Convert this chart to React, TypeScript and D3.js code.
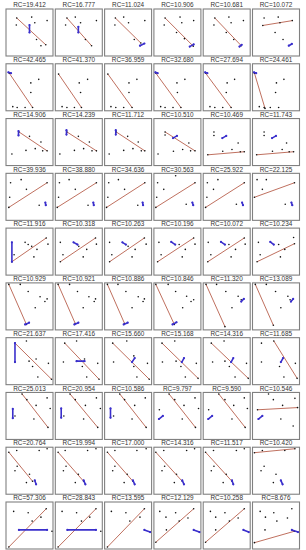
import React from "react";
import * as d3 from "d3";

type Pt = [number, number];
type Seg = [number, number, number, number];

// titles, row by row (6 per row)
const rcLabels = [
  "19.412", "16.777", "11.024", "10.906", "10.681", "10.072",
  "42.465", "41.370", "36.959", "32.680", "27.694", "24.461",
  "14.906", "14.239", "11.712", "10.510", "10.469", "11.743",
  "39.936", "38.880", "34.636", "30.563", "25.922", "22.125",
  "11.916", "10.318", "10.263", "10.196", "10.072", "10.234",
  "10.929", "10.921", "10.886", "10.846", "11.320", "13.089",
  "21.637", "17.416", "15.660", "15.168", "14.316", "11.685",
  "25.013", "20.954", "10.586", "9.797", "9.590", "10.546",
  "20.764", "19.994", "17.000", "14.316", "11.517", "10.420",
  "57.306", "28.843", "13.595", "12.129", "10.258", "8.676",
];

// scatter points of every panel (x, y in [0,1])
const panelPoints: Pt[][] = [
  // row 1
  [[0.21,0.83],[0.55,0.85],[0.20,0.67],[0.62,0.72],[0.90,0.77],[0.66,0.34],[0.76,0.20],[0.87,0.22]],
  [[0.23,0.83],[0.42,0.85],[0.20,0.67],[0.54,0.72],[0.90,0.77],[0.65,0.34],[0.79,0.20]],
  [[0.21,0.83],[0.40,0.85],[0.20,0.67],[0.51,0.72],[0.88,0.77],[0.64,0.34],[0.79,0.26]],
  [[0.22,0.83],[0.56,0.85],[0.20,0.67],[0.60,0.72],[0.87,0.77],[0.48,0.50],[0.66,0.36],[0.86,0.19]],
  [[0.23,0.83],[0.55,0.85],[0.21,0.67],[0.60,0.72],[0.88,0.77],[0.49,0.50],[0.66,0.34],[0.83,0.20]],
  [[0.20,0.66],[0.23,0.83],[0.55,0.85],[0.59,0.72],[0.48,0.50],[0.66,0.34],[0.87,0.77]],
  // row 2
  [[0.04,0.82],[0.53,0.60],[0.71,0.68],[0.53,0.38],[0.12,0.06],[0.22,0.04],[0.40,0.04],[0.57,0.04]],
  [[0.04,0.80],[0.51,0.60],[0.70,0.68],[0.54,0.38],[0.12,0.06],[0.23,0.04],[0.40,0.04],[0.56,0.04]],
  [[0.04,0.80],[0.52,0.60],[0.70,0.68],[0.52,0.38],[0.11,0.06],[0.22,0.04],[0.40,0.04],[0.59,0.04]],
  [[0.01,0.82],[0.49,0.60],[0.67,0.68],[0.50,0.38],[0.12,0.06],[0.22,0.04],[0.40,0.04],[0.58,0.04]],
  [[0.02,0.82],[0.51,0.60],[0.68,0.68],[0.49,0.38],[0.12,0.06],[0.23,0.04],[0.41,0.04],[0.60,0.04]],
  [[0.01,0.82],[0.51,0.60],[0.68,0.68],[0.49,0.38],[0.12,0.06],[0.23,0.04],[0.37,0.04],[0.56,0.04],[0.25,0.02]],
  // row 3
  [[0.26,0.73],[0.50,0.63],[0.76,0.50],[0.10,0.23],[0.42,0.31],[0.63,0.35],[0.80,0.30],[0.90,0.30]],
  [[0.23,0.73],[0.49,0.63],[0.74,0.50],[0.07,0.23],[0.40,0.31],[0.61,0.35],[0.80,0.30],[0.90,0.30]],
  [[0.23,0.73],[0.49,0.63],[0.73,0.50],[0.07,0.23],[0.40,0.31],[0.61,0.35],[0.80,0.30],[0.88,0.30]],
  [[0.22,0.73],[0.22,0.66],[0.06,0.23],[0.41,0.29],[0.62,0.33],[0.80,0.30],[0.90,0.30],[0.76,0.48]],
  [[0.21,0.73],[0.21,0.65],[0.76,0.48],[0.41,0.29],[0.62,0.33],[0.81,0.28],[0.07,0.21],[0.90,0.28]],
  [[0.23,0.73],[0.23,0.65],[0.74,0.48],[0.42,0.29],[0.64,0.33],[0.80,0.28],[0.06,0.21],[0.90,0.28]],
  // row 4
  [[0.07,0.82],[0.31,0.89],[0.43,0.67],[0.05,0.49],[0.72,0.31],[0.03,0.26],[0.90,0.82]],
  [[0.06,0.82],[0.28,0.89],[0.42,0.67],[0.04,0.49],[0.71,0.31],[0.01,0.26],[0.90,0.82]],
  [[0.06,0.82],[0.28,0.89],[0.42,0.67],[0.04,0.49],[0.72,0.31],[0.01,0.26],[0.88,0.82]],
  [[0.05,0.82],[0.46,0.98],[0.19,0.67],[0.03,0.49],[0.70,0.33],[0.01,0.26],[0.90,0.82]],
  [[0.30,0.89],[0.20,0.67],[0.72,0.33],[0.05,0.49],[0.02,0.26],[0.90,0.82],[0.06,0.82]],
  [[0.07,0.89],[0.28,0.89],[0.19,0.67],[0.71,0.33],[0.01,0.49],[0.92,0.82]],
  // row 5
  [[0.40,0.71],[0.47,0.66],[0.55,0.62],[0.67,0.55],[0.92,0.67],[0.60,0.38],[0.15,0.43],[0.10,0.27],[0.88,0.81]],
  [[0.08,0.71],[0.14,0.43],[0.50,0.62],[0.60,0.38],[0.90,0.67],[0.68,0.55],[0.08,0.27],[0.88,0.81]],
  [[0.08,0.71],[0.13,0.43],[0.59,0.38],[0.91,0.67],[0.66,0.55],[0.08,0.27],[0.87,0.81],[0.50,0.62]],
  [[0.08,0.71],[0.13,0.43],[0.61,0.38],[0.90,0.67],[0.68,0.55],[0.54,0.66],[0.05,0.27],[0.87,0.81]],
  [[0.08,0.71],[0.14,0.43],[0.60,0.38],[0.92,0.67],[0.70,0.55],[0.55,0.66],[0.07,0.27],[0.90,0.81]],
  [[0.10,0.71],[0.14,0.43],[0.60,0.38],[0.90,0.82],[0.70,0.55],[0.56,0.66],[0.07,0.27],[0.92,0.68]],
  // row 6
  [[0.03,1.0],[0.29,1.0],[0.47,0.84],[0.74,0.72],[0.90,0.67],[0.85,0.61],[0.63,0.47],[0.43,0.09]],
  [[0.03,1.0],[0.29,1.0],[0.47,0.84],[0.73,0.72],[0.88,0.67],[0.85,0.61],[0.60,0.47],[0.42,0.11]],
  [[0.03,1.0],[0.27,1.0],[0.45,0.84],[0.73,0.72],[0.87,0.67],[0.84,0.61],[0.59,0.47],[0.42,0.11]],
  [[0.01,1.0],[0.29,1.0],[0.46,0.84],[0.71,0.73],[0.87,0.65],[0.81,0.61],[0.62,0.47],[0.43,0.09]],
  [[0.03,1.0],[0.27,1.0],[0.48,0.84],[0.76,0.73],[0.83,0.65],[0.62,0.47],[0.46,0.04]],
  [[0.03,1.0],[0.28,1.0],[0.49,0.84],[0.77,0.73],[0.82,0.65],[0.61,0.47],[0.44,0.07]],
  // row 7
  [[0.17,0.91],[0.43,0.96],[0.49,0.50],[0.65,0.55],[0.57,0.38],[0.69,0.14],[0.93,0.45],[1.0,0.09],[0.17,0.48]],
  [[0.18,0.91],[0.45,0.96],[0.15,0.48],[0.63,0.55],[0.58,0.38],[0.68,0.14],[0.93,0.45],[0.96,0.09],[0.45,0.50]],
  [[0.15,0.91],[0.47,0.96],[0.17,0.48],[0.63,0.62],[0.63,0.38],[0.70,0.14],[0.94,0.45],[0.98,0.09]],
  [[0.15,0.91],[0.44,0.96],[0.16,0.48],[0.47,0.50],[0.58,0.38],[0.68,0.14],[0.93,0.45],[0.97,0.11]],
  [[0.15,0.91],[0.44,0.96],[0.18,0.48],[0.46,0.50],[0.56,0.38],[0.69,0.14],[0.95,0.45],[0.99,0.11]],
  [[0.17,0.91],[0.45,0.96],[0.17,0.48],[0.58,0.38],[0.68,0.14],[0.94,0.45],[0.98,0.11]],
  // row 8
  [[0.33,1.0],[0.44,0.87],[0.65,0.74],[0.90,0.91],[0.60,0.43],[0.97,0.67],[0.17,0.50],[0.92,0.24]],
  [[0.30,1.0],[0.42,0.87],[0.65,0.74],[0.90,0.91],[0.61,0.43],[0.99,0.67],[0.16,0.50],[0.93,0.24]],
  [[0.31,1.0],[0.42,0.87],[0.65,0.74],[0.89,0.91],[0.59,0.43],[0.17,0.50],[0.91,0.24]],
  [[0.31,1.0],[0.44,0.87],[0.65,0.74],[0.90,0.91],[0.61,0.43],[0.09,0.64],[0.98,0.67],[0.91,0.24]],
  [[0.32,1.0],[0.46,0.87],[0.66,0.74],[0.90,0.91],[0.62,0.43],[0.09,0.64],[0.97,0.67],[0.92,0.24]],
  [[0.33,1.0],[0.44,0.87],[0.65,0.74],[0.93,0.90],[0.61,0.43],[0.89,0.27],[0.08,0.64],[0.99,0.69]],
  // row 9
  [[0.03,0.92],[0.21,0.96],[0.72,0.96],[0.90,1.0],[0.22,0.60],[0.17,0.50],[0.50,0.42],[0.43,0.23],[0.57,0.26]],
  [[0.03,0.92],[0.19,0.96],[0.70,0.96],[0.89,1.0],[0.21,0.60],[0.15,0.50],[0.49,0.42],[0.42,0.23],[0.61,0.26]],
  [[0.03,0.92],[0.20,0.96],[0.70,0.96],[0.91,1.0],[0.20,0.60],[0.15,0.50],[0.48,0.42],[0.41,0.23],[0.61,0.26]],
  [[0.01,0.92],[0.19,0.96],[0.71,0.96],[0.89,1.0],[0.21,0.60],[0.15,0.50],[0.48,0.42],[0.43,0.23],[0.61,0.26]],
  [[0.02,0.92],[0.20,0.96],[0.72,0.96],[0.90,1.0],[0.21,0.60],[0.15,0.50],[0.49,0.42],[0.42,0.23],[0.62,0.26]],
  [[0.01,0.91],[0.19,0.96],[0.70,0.96],[0.93,1.0],[0.23,0.60],[0.16,0.50],[0.50,0.42],[0.44,0.23]],
  // row 10
  [[0.14,0.82],[0.47,0.79],[0.76,0.69],[0.56,0.60],[1.01,0.37],[0.88,0.88],[0.03,0.01]],
  [[0.12,0.82],[0.45,0.79],[0.75,0.69],[0.56,0.60],[1.0,0.37],[0.89,0.88],[0.03,0.01]],
  [[0.12,0.82],[0.45,0.79],[0.77,0.69],[0.54,0.60],[0.87,0.88],[0.03,0.01]],
  [[0.10,0.82],[0.46,0.79],[0.74,0.67],[0.24,0.69],[0.25,0.40],[0.54,0.60],[0.01,0.12],[0.87,0.88]],
  [[0.13,0.82],[0.46,0.79],[0.76,0.67],[0.25,0.69],[0.25,0.40],[0.56,0.60],[0.02,0.12],[0.90,0.88]],
  [[0.14,0.82],[0.45,0.79],[0.86,0.88],[0.76,0.67],[0.26,0.69],[0.52,0.60],[0.25,0.40],[0.01,0.11],[0.92,0.37]],
];

// red fitted line of every panel (x1, y1, x2, y2)
const fitLines: Seg[] = [
  [0.21,0.83,0.87,0.22],[0.23,0.83,0.79,0.20],[0.21,0.83,0.79,0.26],[0.22,0.83,0.86,0.19],[0.23,0.83,0.83,0.20],[0.20,0.66,0.87,0.77],
  [0.04,0.82,0.57,0.04],[0.04,0.80,0.56,0.04],[0.04,0.80,0.59,0.04],[0.01,0.82,0.58,0.04],[0.02,0.82,0.60,0.04],[0.01,0.82,0.25,0.02],
  [0.26,0.73,0.90,0.30],[0.23,0.73,0.90,0.30],[0.23,0.73,0.88,0.30],[0.22,0.73,0.90,0.30],[0.07,0.21,0.90,0.28],[0.06,0.21,0.90,0.28],
  [0.03,0.26,0.90,0.82],[0.01,0.26,0.90,0.82],[0.01,0.26,0.88,0.82],[0.01,0.26,0.90,0.82],[0.02,0.26,0.90,0.82],[0.01,0.49,0.92,0.82],
  [0.10,0.27,0.88,0.81],[0.08,0.27,0.88,0.81],[0.08,0.27,0.87,0.81],[0.05,0.27,0.87,0.81],[0.07,0.27,0.90,0.81],[0.07,0.27,0.92,0.68],
  [0.03,1.0,0.43,0.09],[0.03,1.0,0.42,0.11],[0.03,1.0,0.42,0.11],[0.01,1.0,0.43,0.09],[0.03,1.0,0.46,0.04],[0.03,1.0,0.44,0.07],
  [0.17,0.91,1.0,0.09],[0.18,0.91,0.96,0.09],[0.15,0.91,0.98,0.09],[0.15,0.91,0.97,0.11],[0.15,0.91,0.99,0.11],[0.45,0.96,0.98,0.11],
  [0.33,1.0,0.92,0.24],[0.30,1.0,0.93,0.24],[0.31,1.0,0.91,0.24],[0.31,1.0,0.91,0.24],[0.32,1.0,0.92,0.24],[0.08,0.64,0.99,0.69],
  [0.03,0.92,0.57,0.26],[0.03,0.92,0.61,0.26],[0.03,0.92,0.61,0.26],[0.01,0.92,0.61,0.26],[0.02,0.92,0.62,0.26],[0.01,0.91,0.93,1.0],
  [0.03,0.01,0.88,0.88],[0.03,0.01,0.89,0.88],[0.03,0.01,0.87,0.88],[0.01,0.12,0.87,0.88],[0.02,0.12,0.90,0.88],[0.01,0.11,0.92,0.37],
];

// blue segment of every panel (null where none)
const blueSegments: (Seg | null)[] = [
  [0.50,0.67,0.50,0.50],[0.49,0.63,0.49,0.50],[0.77,0.20,0.87,0.25],[0.78,0.18,0.87,0.23],[0.79,0.18,0.84,0.22],[0.79,0.20,0.86,0.24],
  [0.02,0.84,0.08,0.82],null,null,[0.0,0.84,0.05,0.82],[0.01,0.84,0.06,0.82],[0.0,0.84,0.05,0.82],
  [0.25,0.75,0.25,0.65],[0.22,0.77,0.22,0.67],[0.22,0.77,0.22,0.67],[0.40,0.59,0.49,0.64],[0.40,0.59,0.49,0.64],[0.41,0.59,0.50,0.64],
  [0.86,0.37,0.87,0.31],[0.83,0.37,0.84,0.31],[0.83,0.37,0.84,0.31],[0.84,0.37,0.86,0.31],[0.85,0.37,0.87,0.31],[0.85,0.37,0.87,0.31],
  [0.10,0.71,0.10,0.27],[0.38,0.71,0.47,0.66],[0.37,0.71,0.45,0.66],[0.36,0.72,0.45,0.66],[0.37,0.72,0.46,0.66],[0.37,0.72,0.45,0.66],
  [0.40,0.09,0.49,0.13],[0.40,0.09,0.49,0.13],[0.40,0.09,0.49,0.13],[0.39,0.09,0.48,0.14],[0.83,0.61,0.89,0.67],[0.84,0.61,0.89,0.67],
  [0.17,0.91,0.17,0.48],[0.45,0.50,0.63,0.50],[0.59,0.48,0.65,0.57],[0.60,0.48,0.65,0.57],[0.60,0.48,0.65,0.57],[0.61,0.48,0.66,0.57],
  [0.12,0.66,0.12,0.45],[0.10,0.67,0.10,0.46],[0.10,0.67,0.10,0.46],[0.08,0.43,0.17,0.50],[0.08,0.43,0.17,0.50],[0.10,0.43,0.19,0.50],
  [0.62,0.28,0.65,0.19],[0.61,0.28,0.65,0.19],[0.61,0.28,0.65,0.19],[0.61,0.28,0.65,0.19],[0.62,0.28,0.65,0.19],[0.61,0.28,0.65,0.19],
  [0.26,0.40,0.90,0.40],[0.24,0.40,0.89,0.40],[0.87,0.40,1.0,0.35],[0.87,0.40,1.0,0.35],[0.88,0.40,1.0,0.35],[0.86,0.40,1.0,0.35],
];

const W = 306;
const H = 550;
const NCOL = 6;
const NROW = 10;
const boxW = 47;
const boxH = 47;

function Panel({ i }: { i: number }) {
  const col = i % NCOL;
  const row = Math.floor(i / NCOL);
  const colX = d3.scaleLinear().domain([0, NCOL - 1]).range([6, 252.5]);
  const rowY = d3.scaleLinear().domain([0, NROW - 1]).range([9, 502]);
  const x = d3.scaleLinear().domain([0, 1]).range([1.5, boxW - 1.5]);
  const y = d3.scaleLinear().domain([0, 1]).range([boxH - 1.5, 1.5]);
  const fl = fitLines[i];
  const bs = blueSegments[i];

  return (
    <g transform={`translate(${colX(col)},${rowY(row)})`}>
      <text x={boxW / 2} y={-1.8} textAnchor="middle" fontSize={6.4}
        fontFamily="'Liberation Sans', Arial, sans-serif" fill="#333">
        {"RC=" + rcLabels[i]}
      </text>
      <rect x={0} y={0} width={boxW} height={boxH} fill="#fff" stroke="#808080" strokeWidth={1.1} />
      <line x1={x(fl[0])} y1={y(fl[1])} x2={x(fl[2])} y2={y(fl[3])}
        stroke="#b8604e" strokeOpacity={0.9} strokeWidth={1} />
      {panelPoints[i].map((p, k) => (
        <circle key={k} cx={x(p[0])} cy={y(p[1])} r={0.8} fill="#111" />
      ))}
      {bs && (
        <g>
          <line x1={x(bs[0])} y1={y(bs[1])} x2={x(bs[2])} y2={y(bs[3])}
            stroke="#3a2fcc" strokeWidth={1.6} strokeLinecap="round" />
          <circle cx={x(bs[0])} cy={y(bs[1])} r={1.1} fill="#3a2fcc" />
          <circle cx={x(bs[2])} cy={y(bs[3])} r={1.1} fill="#3a2fcc" />
        </g>
      )}
    </g>
  );
}

export default function App() {
  return (
    <svg width={W} height={H} style={{ position: "absolute", left: 0, top: 0, background: "#fff" }}>
      {rcLabels.map((_, i) => (
        <Panel key={i} i={i} />
      ))}
    </svg>
  );
}
